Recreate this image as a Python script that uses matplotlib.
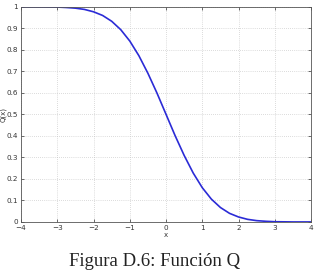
import matplotlib
matplotlib.use("Agg")
import matplotlib.pyplot as plt

# values
x_vals = [-4.0, -3.5, -3.0, -2.75, -2.5, -2.25, -2.0, -1.75, -1.5, -1.25,
          -1.0, -0.75, -0.5, -0.25, 0.0, 0.25, 0.5, 0.75, 1.0, 1.25,
          1.5, 1.75, 2.0, 2.25, 2.5, 2.75, 3.0, 3.5, 4.0]
q_vals = [1.0, 1.0, 0.999, 0.997, 0.994, 0.988, 0.977, 0.96, 0.933, 0.894,
          0.841, 0.773, 0.691, 0.599, 0.5, 0.401, 0.309, 0.227, 0.159, 0.106,
          0.067, 0.04, 0.023, 0.012, 0.006, 0.003, 0.001, 0.0, 0.0]
x_ticks = [-4, -3, -2, -1, 0, 1, 2, 3, 4]
y_ticks = [0, 0.1, 0.2, 0.3, 0.4, 0.5, 0.6, 0.7, 0.8, 0.9, 1]
caption = "Figura D.6: Función Q"

fig = plt.figure(figsize=(3.16, 2.74), dpi=100)
ax = fig.add_axes([0.0665, 0.19, 0.918, 0.785])
ax.plot(x_vals, q_vals, color="#2b2bd6", linewidth=1.2)
ax.set_xlim(-4, 4)
ax.set_ylim(0, 1)
ax.set_xticks(x_ticks)
ax.set_yticks(y_ticks)
ax.set_xticklabels(["\u22124", "\u22123", "\u22122", "\u22121", "0", "1", "2", "3", "4"])
ax.set_yticklabels(["0", "0.1", "0.2", "0.3", "0.4", "0.5", "0.6", "0.7", "0.8", "0.9", "1"])
ax.tick_params(labelsize=5.2, length=2, width=0.5, direction="in", pad=2,
               colors="#333333", top=True, right=True)
ax.grid(True, linestyle=(0, (1, 2)), linewidth=0.5, color="#bbbbbb")
for s in ax.spines.values():
    s.set_linewidth(0.6)
    s.set_color("#555555")
ax.set_xlabel("x", fontsize=5, labelpad=1, color="#333333")
ax.set_ylabel("Q(x)", fontsize=5, labelpad=0, color="#333333")

fig.text(0.49, 0.044, caption, ha="center", va="center", fontsize=13.5,
         family="Liberation Serif", color="#222222")

fig.savefig("out.png", dpi=100)
